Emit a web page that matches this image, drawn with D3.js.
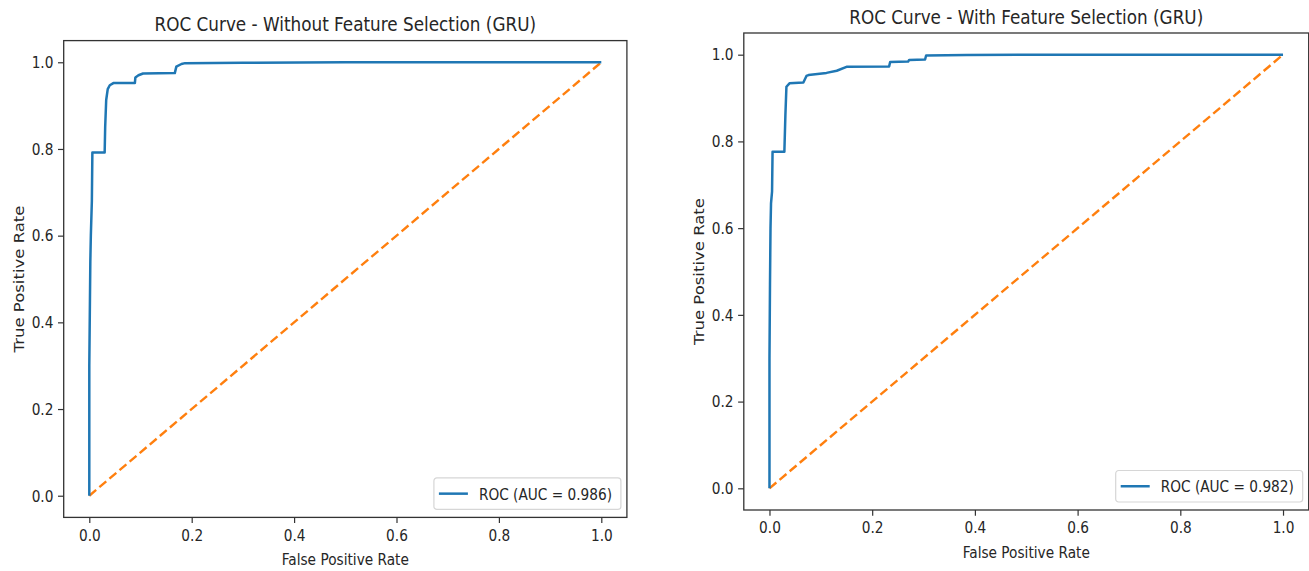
<!DOCTYPE html>
<html>
<head>
<meta charset="utf-8">
<script src="https://cdn.jsdelivr.net/npm/d3@7"></script>
<style>
  html, body { margin: 0; padding: 0; background: #fff; }
  svg { display: block; }
  text { font-family: "DejaVu Sans", sans-serif; fill: #262626; }
</style>
</head>
<body>
<svg id="chart" width="1309" height="571"></svg>
<script>
// ROC curve of the GRU model trained on all features
const fprWithout = [0, 0, 0.002, 0.003, 0.005, 0.006, 0.030, 0.031, 0.033, 0.036, 0.040, 0.047,
  0.089, 0.090, 0.096, 0.105, 0.167, 0.170, 0.180, 0.187, 0.300, 0.500, 1.0];
const tprWithout = [0, 0.30, 0.54, 0.60, 0.68, 0.792, 0.792, 0.85, 0.913, 0.938, 0.947, 0.952,
  0.952, 0.965, 0.970, 0.974, 0.975, 0.990, 0.996, 0.998, 0.999, 1.0, 1.0];

// ROC curve of the GRU model trained on the selected features
const fprWith = [0, 0, 0.001, 0.002, 0.003, 0.005, 0.006, 0.029, 0.031, 0.033, 0.039, 0.066,
  0.072, 0.076, 0.111, 0.131, 0.150, 0.233, 0.235, 0.270, 0.272, 0.303, 0.305, 0.384, 0.500, 1.0];
const tprWith = [0, 0.30, 0.47, 0.60, 0.657, 0.684, 0.776, 0.776, 0.861, 0.926, 0.934, 0.936,
  0.951, 0.953, 0.958, 0.963, 0.972, 0.973, 0.983, 0.984, 0.988, 0.989, 0.998, 0.9995, 1.0, 1.0];

// Chance diagonal
const chanceX = [0, 1];
const chanceY = [0, 1];

const aucValues = [0.986, 0.982];
const panelTitles = ["ROC Curve - Without Feature Selection (GRU)", "ROC Curve - With Feature Selection (GRU)"];
const xTickValues = [0, 0.2, 0.4, 0.6, 0.8, 1.0];
const yTickValues = [0, 0.2, 0.4, 0.6, 0.8, 1.0];
const xAxisLabel = "False Positive Rate";
const yAxisLabel = "True Positive Rate";

const svg = d3.select("#chart");

// Horizontal squeeze applied to all text glyphs
const SX = 0.83;
const FS = 16.5;

const panels = [
  { fpr: fprWithout, tpr: tprWithout, auc: aucValues[0], title: panelTitles[0],
    x0: 63.7, x1: 626.9, y0: 517.4, y1: 40.6 },
  { fpr: fprWith, tpr: tprWith, auc: aucValues[1], title: panelTitles[1],
    x0: 743.8, x1: 1308.7, y0: 510.0, y1: 33.0 }
];

const blue = "#1f77b4", orange = "#ff7f0e";

panels.forEach(p => {
  const x = d3.scaleLinear().domain([-0.05, 1.05]).range([p.x0, p.x1]);
  const y = d3.scaleLinear().domain([-0.05, 1.05]).range([p.y0, p.y1]);
  const g = svg.append("g");

  // chance line
  const line = d3.line().x(d => x(d[0])).y(d => y(d[1]));
  g.append("path")
    .datum(d3.zip(chanceX, chanceY))
    .attr("d", line)
    .attr("fill", "none")
    .attr("stroke", orange)
    .attr("stroke-width", 2.4)
    .attr("stroke-dasharray", "9,4.2");

  // ROC curve
  g.append("path")
    .datum(d3.zip(p.fpr, p.tpr))
    .attr("d", line)
    .attr("fill", "none")
    .attr("stroke", blue)
    .attr("stroke-width", 2.5)
    .attr("stroke-linejoin", "round");

  // frame
  g.append("rect")
    .attr("x", p.x0).attr("y", p.y1)
    .attr("width", p.x1 - p.x0).attr("height", p.y0 - p.y1)
    .attr("fill", "none").attr("stroke", "#333").attr("stroke-width", 1.3);

  // x axis
  const xa = g.append("g")
    .attr("transform", `translate(0,${p.y0})`)
    .call(d3.axisBottom(x).tickValues(xTickValues).tickFormat(d3.format(".1f"))
      .tickSize(5.7).tickPadding(6));
  xa.select(".domain").remove();
  xa.selectAll(".tick line").attr("stroke", "#333").attr("stroke-width", 1.2);
  xa.selectAll(".tick text")
    .attr("font-size", FS).attr("fill", "#262626")
    .attr("font-family", "DejaVu Sans")
    .attr("transform", `scale(${SX},1)`);

  // y axis
  const ya = g.append("g")
    .attr("transform", `translate(${p.x0},0)`)
    .call(d3.axisLeft(y).tickValues(yTickValues).tickFormat(d3.format(".1f"))
      .tickSize(5.7).tickPadding(4.6));
  ya.select(".domain").remove();
  ya.selectAll(".tick line").attr("stroke", "#333").attr("stroke-width", 1.2);
  ya.selectAll(".tick text")
    .attr("font-size", FS).attr("fill", "#262626")
    .attr("font-family", "DejaVu Sans")
    .attr("x", -(5.7 + 4.6) / SX)
    .attr("transform", `scale(${SX},1)`);

  // title
  const cx = (p.x0 + p.x1) / 2;
  g.append("text")
    .attr("transform", `translate(${cx},${p.y1 - 9.5}) scale(${SX},1)`)
    .attr("text-anchor", "middle")
    .attr("font-size", FS * 1.23)
    .text(p.title);

  // axis labels
  g.append("text")
    .attr("transform", `translate(${cx},${p.y0 + 47.5}) scale(${SX},1)`)
    .attr("text-anchor", "middle")
    .attr("font-size", FS)
    .text(xAxisLabel);

  const cy = (p.y0 + p.y1) / 2;
  g.append("text")
    .attr("transform", `translate(${p.x0 - 39.5},${cy}) rotate(-90) scale(1,${SX})`)
    .attr("text-anchor", "middle")
    .attr("font-size", FS)
    .text(yAxisLabel);

  // legend
  const lw = 187, lh = 31.5;
  const lx = p.x1 - 6 - lw, ly = p.y0 - 8 - lh;
  const leg = g.append("g").attr("transform", `translate(${lx},${ly})`);
  leg.append("rect")
    .attr("width", lw).attr("height", lh).attr("rx", 3)
    .attr("fill", "#fff").attr("fill-opacity", 0.85)
    .attr("stroke", "#d6d6d6").attr("stroke-width", 1.2);
  leg.append("line")
    .attr("x1", 5).attr("x2", 34).attr("y1", lh / 2).attr("y2", lh / 2)
    .attr("stroke", blue).attr("stroke-width", 2.5);
  leg.append("text")
    .attr("transform", `translate(${45},${lh / 2 + 6}) scale(${SX},1)`)
    .attr("font-size", FS)
    .text(`ROC (AUC = ${d3.format(".3f")(p.auc)})`);
});
</script>
</body>
</html>
